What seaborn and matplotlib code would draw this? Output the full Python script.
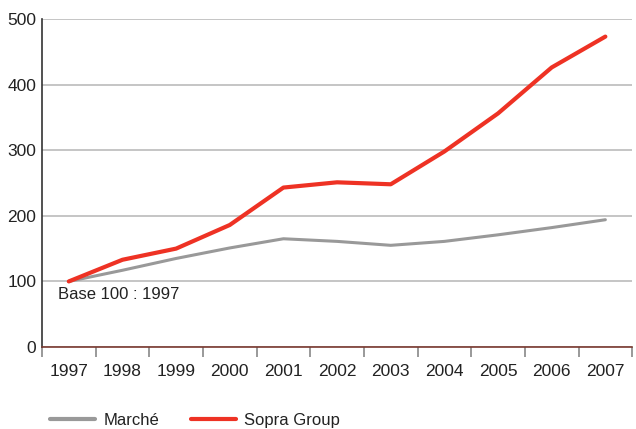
import matplotlib.pyplot as plt
import numpy as np
import seaborn as sns
import pandas as pd

years = [1997, 1998, 1999, 2000, 2001, 2002, 2003, 2004, 2005, 2006, 2007]
marche = [100, 117, 135, 151, 165, 161, 155, 161, 171, 182, 194]
sopra = [100, 133, 150, 186, 243, 251, 248, 298, 356, 426, 473]
series_names = ["Marché", "Sopra Group"]
colors = ["#999999", "#ee3224"]

df = pd.DataFrame({
    "year": years * 2,
    "value": marche + sopra,
    "serie": [series_names[0]] * len(years) + [series_names[1]] * len(years),
})

sns.set_style("white")
plt.rcParams["font.family"] = ["Liberation Sans", "DejaVu Sans"]

fig = plt.figure(figsize=(6.36, 4.29), dpi=100)
ax = fig.add_axes([0.066, 0.191, 0.928, 0.765])

sns.lineplot(data=df, x="year", y="value", hue="serie", palette=colors,
             linewidth=2.6, ax=ax, legend=False)
ax.lines[0].set_linewidth(2.2)
ax.lines[1].set_linewidth(3.0)

ax.set_xlim(1996.5, 2007.5)
ax.set_ylim(0, 500)
ax.set_yticks([0, 100, 200, 300, 400, 500])
ax.set_xticks(years)
ax.set_xticklabels([str(y) for y in years])
ax.set_xticks(np.arange(1996.5, 2007.6, 1.0), minor=True)
ax.tick_params(axis="x", which="major", bottom=False, length=0, pad=12, labelsize=12.5, colors="#222222")
ax.tick_params(axis="x", which="minor", bottom=True, length=7, width=1.2, color="#888888", direction="out")
ax.tick_params(axis="y", length=0, pad=4, labelsize=12.5, colors="#222222")
ax.grid(axis="y", color="#c0c0c0", linewidth=1.3)
ax.grid(axis="x", visible=False)
ax.set_axisbelow(True)
ax.set_xlabel("")
ax.set_ylabel("")

for side in ["top", "right"]:
    ax.spines[side].set_visible(False)
ax.spines["left"].set_color("#333333")
ax.spines["left"].set_linewidth(1.2)
ax.spines["bottom"].set_color("#7a3a30")
ax.spines["bottom"].set_linewidth(1.2)

ax.text(1997 - 0.2, 80, "Base 100 : 1997", fontsize=12, color="#222222", va="center", ha="left")

handles = [plt.Line2D([], [], color=colors[0], linewidth=3),
           plt.Line2D([], [], color=colors[1], linewidth=3)]
fig.legend(handles, series_names, loc="center left", bbox_to_anchor=(0.0786, 0.02), ncol=2,
           frameon=False, fontsize=12, handlelength=2.7, columnspacing=1.9, handletextpad=0.5,
           borderpad=0, borderaxespad=0, labelcolor="#222222")

fig.savefig("out.png", dpi=100)
